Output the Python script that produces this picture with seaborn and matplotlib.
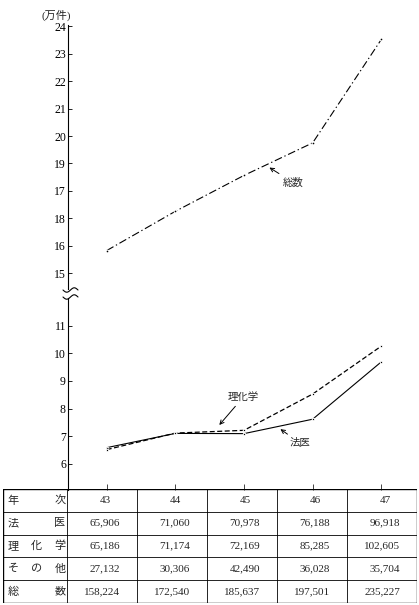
import numpy as np
import pandas as pd
import seaborn as sns
import matplotlib.pyplot as plt
from matplotlib.lines import Line2D

# 年次 (昭和) and case counts
years = [43, 44, 45, 46, 47]
houi = [65906, 71060, 70978, 76188, 96918]
rikagaku = [65186, 71174, 72169, 85285, 102605]
sonota = [27132, 30306, 42490, 36028, 35704]
total = [158224, 172540, 185637, 197501, 235227]

row_labels = ['年次', '法医', '理化学', 'その他', '総数']

# upper axis ticks as printed (17/18 swapped in the original)
upper_ticks = [15, 16, 17, 18, 19, 20, 21, 22, 23, 24]
upper_labels = ['15', '16', '18', '17', '19', '20', '21', '22', '23', '24']
lower_ticks = [6, 7, 8, 9, 10, 11]

sns.set_theme(style='white')
plt.rcParams['font.family'] = ['Liberation Serif', 'Noto Sans CJK JP']

df = pd.DataFrame({
    '年次': years * 3,
    '万件': np.array(total + houi + rikagaku) / 10000,
    '区分': ['総数'] * 5 + ['法医'] * 5 + ['理化学'] * 5,
})

W, H = 419, 605
fig = plt.figure(figsize=(W / 100, H / 100), dpi=100)
ax_top = fig.add_axes([68 / W, 1 - 289 / H, 349 / W, (289 - 25) / H])
ax_bot = fig.add_axes([68 / W, 1 - 490 / H, 349 / W, (490 - 298) / H])
ax_tab = fig.add_axes([3 / W, 1 - 603 / H, 414 / W, (603 - 489) / H])

sns.lineplot(data=df[df['区分'] == '総数'], x='年次', y='万件', ax=ax_top,
             color='black', linestyle=(0, (7, 2.5, 1.2, 2.5)), lw=0.8,
             marker='o', markersize=2)
sns.lineplot(data=df[df['区分'] == '法医'], x='年次', y='万件', ax=ax_bot,
             color='black', linestyle='-', lw=0.8, marker='o', markersize=1.8)
sns.lineplot(data=df[df['区分'] == '理化学'], x='年次', y='万件', ax=ax_bot,
             color='black', linestyle=(0, (4, 2)), lw=0.9, marker='o', markersize=1.8)

for ax in (ax_top, ax_bot):
    ax.set_xlim(42.436, 47.52)
    ax.set_xlabel('')
    ax.set_ylabel('')
    for s in ('top', 'right', 'bottom'):
        ax.spines[s].set_visible(False)
    ax.spines['left'].set_color('black')
    ax.spines['left'].set_linewidth(0.8)
    ax.tick_params(axis='y', direction='in', length=3, width=0.6,
                   labelsize=8.5, pad=1.5, colors='black', left=True)

ax_top.set_ylim(14.42, 24.05)
ax_top.set_yticks(upper_ticks)
ax_top.set_yticklabels(upper_labels)
ax_top.set_xticks([])

ax_bot.set_ylim(5.06, 12.0)
ax_bot.set_yticks(lower_ticks)
ax_bot.set_xticks(years)
ax_bot.set_xticklabels([])
ax_bot.tick_params(axis='x', direction='in', length=4, width=0.6, bottom=True)

# annotations
arrow = dict(arrowstyle='->', color='black', lw=0.7, shrinkA=1, shrinkB=0,
             mutation_scale=7)
ax_top.annotate('総数', xy=(45.37, 18.85), xytext=(45.72, 18.30),
                ha='center', va='center', fontsize=7.5, arrowprops=arrow)
ax_bot.annotate('理化学', xy=(44.64, 7.41), xytext=(44.99, 8.42),
                ha='center', va='center', fontsize=7.5, arrowprops=arrow)
ax_bot.annotate('法医', xy=(45.53, 7.26), xytext=(45.82, 6.75),
                ha='center', va='center', fontsize=7.5, arrowprops=arrow)

fig.text(56 / W, 1 - 15 / H, '(万件)', ha='center', va='center', fontsize=8)

# axis break marks
t = np.linspace(0, 1, 40)
for yb in (290, 297):
    xs = (63 + 15 * t) / W
    ys = 1 - (yb + 2.2 * np.sin(2 * np.pi * t)) / H
    fig.add_artist(Line2D(xs, ys, color='black', lw=0.8, transform=fig.transFigure))

# table
ax_tab.set_xlim(0, 414)
ax_tab.set_ylim(0, 114)
ax_tab.axis('off')
col_edges = [0, 64] + [64 + 70 * (i + 1) for i in range(5)]
n_rows = len(row_labels)
row_h = 114 / n_rows
for i, x in enumerate(col_edges):
    lw = 1.0 if i in (0, len(col_edges) - 1) else 0.6
    ax_tab.plot([x, x], [0, 114], color='black', lw=lw)
for r in range(n_rows + 1):
    lw = 1.0 if r in (0, n_rows) else 0.6
    ax_tab.plot([0, 414], [r * row_h] * 2, color='black', lw=lw)

table_rows = [years, houi, rikagaku, sonota, total]
for r, (label, vals) in enumerate(zip(row_labels, table_rows)):
    yc = 114 - (r + 0.5) * row_h
    chars = list(label)
    xs = np.linspace(10, 57, len(chars))
    for ch, xc in zip(chars, xs):
        ax_tab.text(xc, yc, ch, ha='center', va='center', fontsize=8)
    for c, v in enumerate(vals):
        left = col_edges[c + 1]
        if r == 0:
            ax_tab.text(left + 38, yc, str(v), ha='center', va='center', fontsize=8)
        else:
            ax_tab.text(left + 53, yc, f'{v:,}', ha='right', va='center', fontsize=8)

fig.savefig('out.png', dpi=100)
